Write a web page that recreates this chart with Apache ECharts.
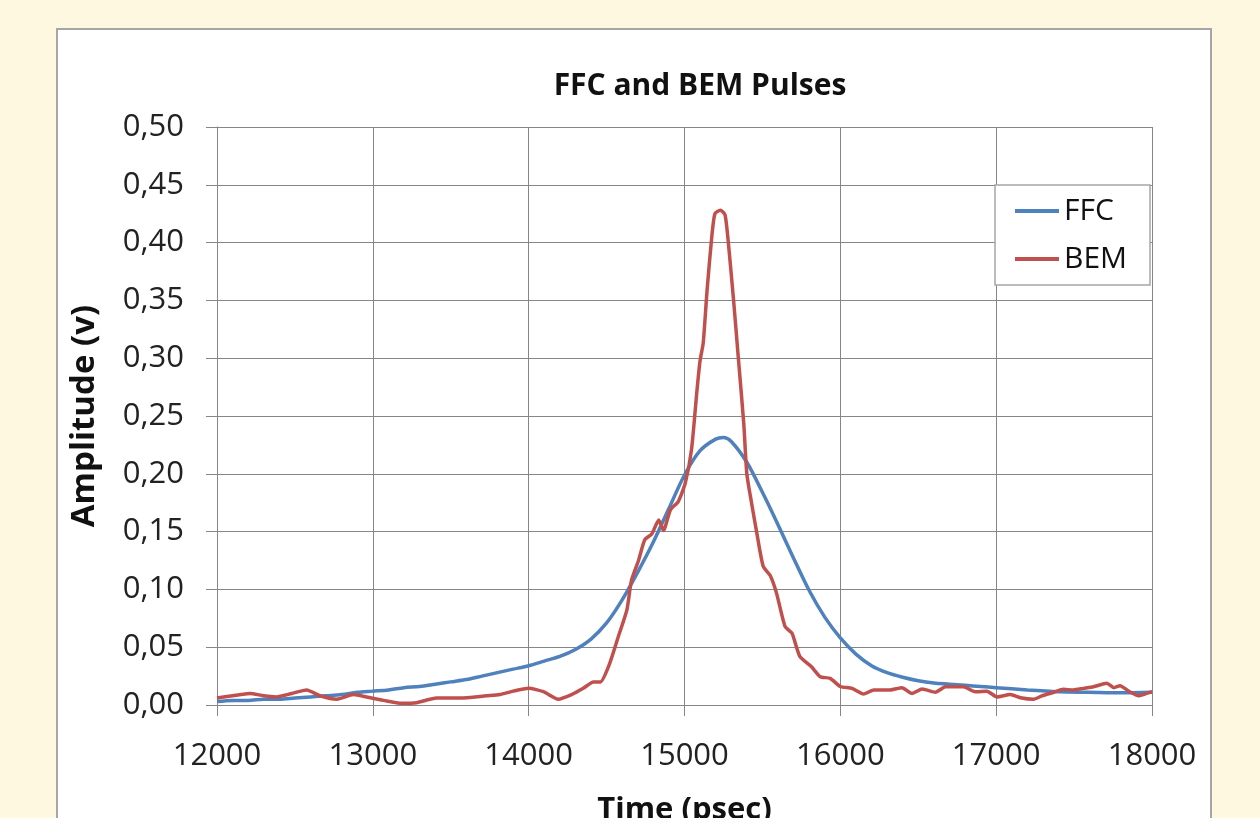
<!DOCTYPE html>
<html>
<head>
<meta charset="utf-8">
<title>FFC and BEM Pulses</title>
<script src="https://cdn.jsdelivr.net/npm/echarts@6.0.0/dist/echarts.min.js"></script>
<style>
  html, body { margin: 0; padding: 0; background: #FFF8E1; }
  #main { width: 1260px; height: 818px; }
</style>
</head>
<body>
<div id="main"></div>
<script>
// FFC pulse (blue)
var ffcTime = [12000, 12100, 12200, 12300, 12400, 12500, 12600, 12700, 12800, 12900,
  13000, 13100, 13200, 13300, 13400, 13500, 13600, 13700, 13800, 13900,
  14000, 14100, 14200, 14300, 14400, 14500, 14600, 14700, 14800, 14900,
  15000, 15100, 15200, 15250, 15300, 15400, 15500, 15600, 15700, 15800,
  15900, 16000, 16100, 16200, 16300, 16400, 16500, 16600, 16700, 16800,
  16900, 17000, 17200, 17400, 17600, 17800, 18000];
var ffcAmp = [0.003, 0.004, 0.004, 0.005, 0.005, 0.006, 0.007, 0.008, 0.009, 0.011,
  0.012, 0.013, 0.015, 0.016, 0.018, 0.020, 0.022, 0.025, 0.028, 0.031,
  0.034, 0.038, 0.042, 0.048, 0.057, 0.071, 0.091, 0.115, 0.141, 0.170,
  0.199, 0.220, 0.230, 0.2315, 0.228, 0.210, 0.184, 0.156, 0.127, 0.099,
  0.076, 0.058, 0.044, 0.034, 0.028, 0.024, 0.021, 0.019, 0.018, 0.017,
  0.016, 0.015, 0.013, 0.0115, 0.011, 0.0105, 0.011];

// BEM pulse (red)
var bemTime = [12000, 12100, 12210, 12300, 12380, 12480, 12575, 12660, 12770, 12875,
  12960, 13070, 13185, 13280, 13410, 13560, 13730, 13815, 13900, 14000,
  14095, 14190, 14275, 14350, 14415, 14460, 14520, 14575, 14630, 14660,
  14705, 14745, 14790, 14835, 14865, 14910, 14960, 15005, 15045, 15080,
  15100, 15120, 15145, 15175, 15195, 15230, 15260, 15280, 15315, 15345,
  15380, 15400, 15430, 15465, 15505, 15550, 15590, 15645, 15690, 15740,
  15815, 15870, 15935, 16000, 16075, 16150, 16215, 16320, 16395, 16460,
  16525, 16610, 16675, 16790, 16865, 16940, 17005, 17090, 17155, 17240,
  17295, 17370, 17430, 17495, 17560, 17625, 17710, 17755, 17795, 17850,
  17915, 17965, 18000];
var bemAmp = [0.006, 0.008, 0.010, 0.008, 0.007, 0.010, 0.013, 0.008, 0.005, 0.009,
  0.007, 0.004, 0.0015, 0.002, 0.006, 0.006, 0.008, 0.009, 0.012, 0.0144,
  0.0115, 0.005, 0.009, 0.0144, 0.020, 0.020, 0.036, 0.059, 0.082, 0.108,
  0.125, 0.143, 0.148, 0.160, 0.151, 0.169, 0.176, 0.192, 0.221, 0.272,
  0.298, 0.313, 0.359, 0.405, 0.425, 0.428, 0.424, 0.402, 0.350, 0.301,
  0.244, 0.200, 0.175, 0.148, 0.120, 0.112, 0.097, 0.068, 0.062, 0.042,
  0.033, 0.0245, 0.023, 0.016, 0.0144, 0.0095, 0.013, 0.013, 0.015, 0.010,
  0.0138, 0.011, 0.0158, 0.0158, 0.0115, 0.012, 0.007, 0.009, 0.0063, 0.005,
  0.008, 0.011, 0.0136, 0.013, 0.0144, 0.0158, 0.0188, 0.015, 0.0167, 0.012,
  0.008, 0.010, 0.0115];

var seriesNames = ['FFC', 'BEM'];
var fontName = "'Open Sans', sans-serif";
var gridColor = '#868686';

function zip(xs, ys) {
  var out = [];
  for (var i = 0; i < xs.length; i++) {
    out.push([xs[i], ys[i]]);
  }
  return out;
}

var chart = echarts.init(document.getElementById('main'));
chart.setOption({
  backgroundColor: '#FFF8E1',
  animation: false,
  textStyle: { fontFamily: fontName },
  // white chart panel
  graphic: [{
    type: 'rect',
    z: -10,
    shape: { x: 57, y: 29, width: 1154, height: 820 },
    style: { fill: '#fff', stroke: '#A6A6A6', lineWidth: 2 }
  }],
  title: {
    text: 'FFC and BEM Pulses',
    left: 695,
    top: 66,
    textAlign: 'center',
    textStyle: { fontFamily: fontName, fontSize: 30, fontWeight: 'bold', color: '#111' }
  },
  legend: {
    data: seriesNames,
    orient: 'vertical',
    left: 995,
    top: 185,
    padding: [11, 23, 11, 20],
    itemGap: 18,
    itemWidth: 44,
    itemHeight: 4,
    icon: 'rect',
    backgroundColor: '#fff',
    borderColor: '#A6A6A6',
    borderWidth: 1.5,
    textStyle: { fontFamily: fontName, fontSize: 30, color: '#111' }
  },
  grid: { left: 217, right: 108, top: 127, bottom: 113, outerBoundsMode: 'none', containLabel: false },
  xAxis: {
    type: 'value',
    min: 12000,
    max: 18000,
    interval: 1000,
    name: 'Time (psec)',
    nameLocation: 'middle',
    nameGap: 90,
    nameTextStyle: { fontFamily: fontName, fontSize: 31, fontWeight: 'bold', color: '#111' },
    axisLine: { lineStyle: { color: gridColor, width: 1 } },
    axisTick: { show: true, length: 11, lineStyle: { color: gridColor } },
    axisLabel: {
      fontSize: 31,
      color: '#222',
      margin: 36,
      formatter: function (v) { return String(v); }
    },
    splitLine: { show: true, lineStyle: { color: gridColor, width: 1 } }
  },
  yAxis: {
    type: 'value',
    min: 0,
    max: 0.5,
    interval: 0.05,
    name: 'Amplitude (v)',
    nameLocation: 'middle',
    nameRotate: 90,
    nameGap: 116,
    nameTextStyle: { fontFamily: fontName, fontSize: 33, fontWeight: 'bold', color: '#111' },
    axisLine: { show: true, lineStyle: { color: gridColor, width: 1 } },
    axisTick: { show: true, length: 11, lineStyle: { color: gridColor } },
    axisLabel: {
      fontSize: 31,
      color: '#222',
      margin: 33,
      formatter: function (v) { return v.toFixed(2).replace('.', ','); }
    },
    splitLine: { show: true, lineStyle: { color: gridColor, width: 1 } }
  },
  series: [
    {
      name: seriesNames[0],
      type: 'line',
      data: zip(ffcTime, ffcAmp),
      showSymbol: false,
      smooth: 0.3,
      itemStyle: { color: '#4F81BD' },
      lineStyle: { color: '#4F81BD', width: 3.5 }
    },
    {
      name: seriesNames[1],
      type: 'line',
      data: zip(bemTime, bemAmp),
      showSymbol: false,
      smooth: 0.2,
      itemStyle: { color: '#C0504D' },
      lineStyle: { color: '#C0504D', width: 3.5 }
    }
  ]
});
</script>
</body>
</html>
